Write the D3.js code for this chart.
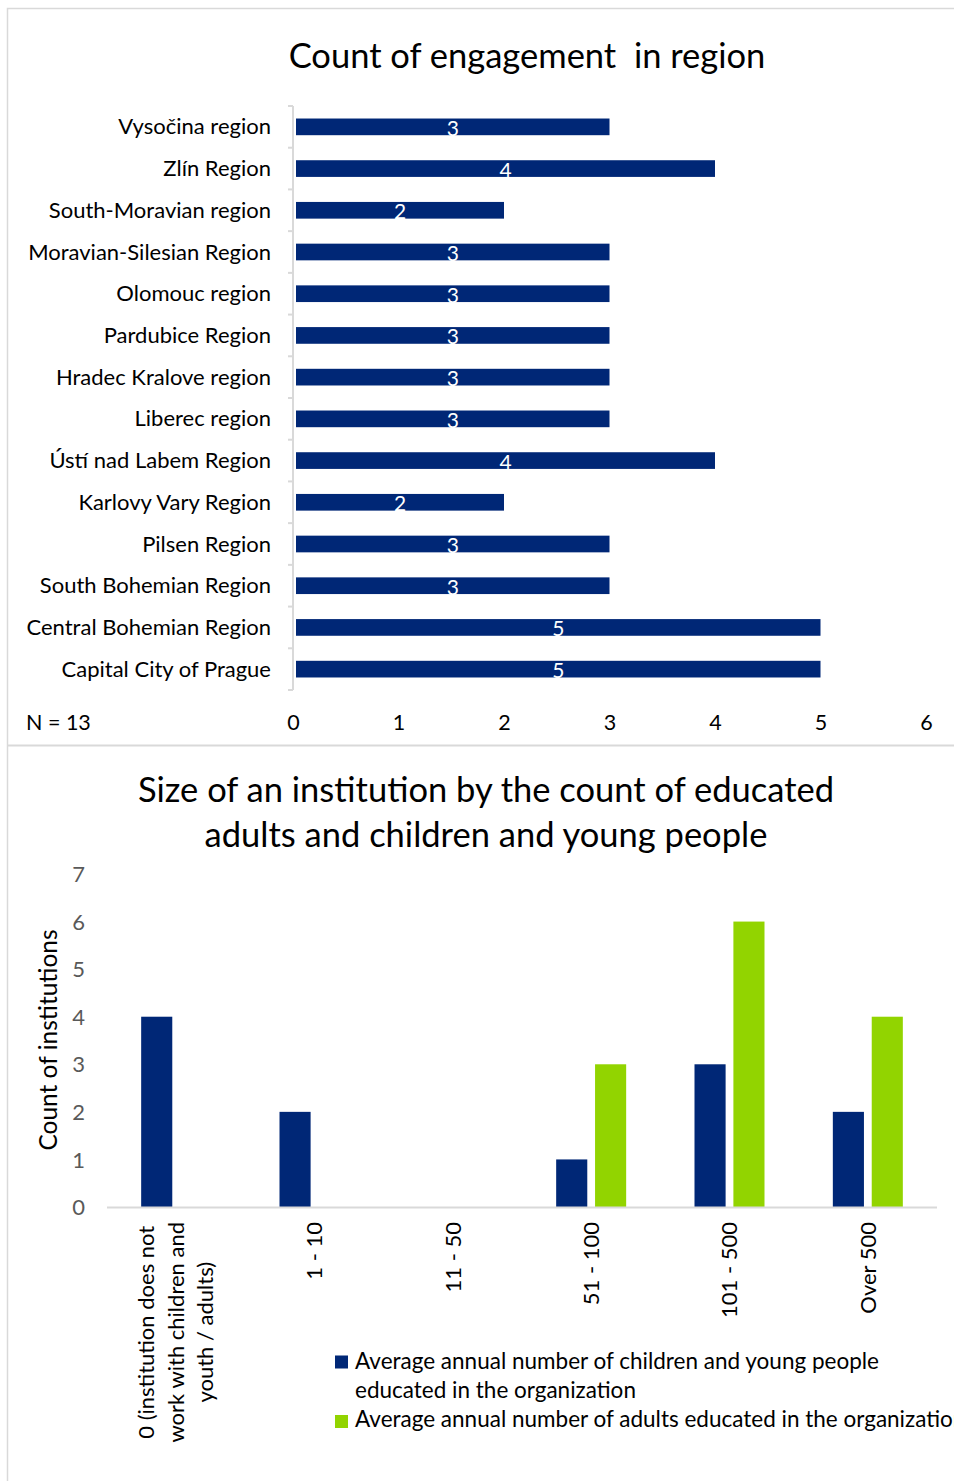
<!DOCTYPE html>
<html><head><meta charset="utf-8">
<script src="https://cdn.jsdelivr.net/npm/d3@7"></script>
<style>
html,body{margin:0;padding:0;background:#fff;}
svg{display:block;font-family:Lato,"Open Sans",sans-serif;}
text{white-space:pre;}
</style></head>
<body>
<svg id="c" width="954" height="1481"></svg>
<script>
// ---------- data ----------
const regions = ["Vysočina region","Zlín Region","South-Moravian region","Moravian-Silesian Region","Olomouc region","Pardubice Region","Hradec Kralove region","Liberec region","Ústí nad Labem Region","Karlovy Vary Region","Pilsen Region","South Bohemian Region","Central Bohemian Region","Capital City of Prague"];
const regionCounts = [3,4,2,3,3,3,3,3,4,2,3,3,5,5];
const regionTicks = [0,1,2,3,4,5,6];
const regionTitle = "Count of engagement  in region";
const regionNote = "N = 13";

const sizeCats = ["0 (institution does not work with children and youth / adults)","1 - 10","11 - 50","51 - 100","101 - 500","Over 500"];
const sizeCatLines = [["0 (institution does not","work with children and","youth / adults)"],["1 - 10"],["11 - 50"],["51 - 100"],["101 - 500"],["Over 500"]];
const seriesNames = ["Average annual number of children and young people educated in the organization","Average annual number of adults educated in the organization"];
const legendLines1 = ["Average annual number of children and young people","educated in the organization"];
const childrenCounts = [4,2,0,1,3,2];
const adultCounts = [0,0,0,3,6,4];
const sizeTicks = [0,1,2,3,4,5,6,7];
const sizeTitle = ["Size of an institution by the count of educated","adults and children and young people"];
const sizeYTitle = "Count of institutions";

const BLUE = "#002776", GREEN = "#92D400", FRAME = "#d9d9d9";
const svg = d3.select("#c");

// ---------- frames ----------
svg.append("path").attr("d","M7.5,1481 V8.5 H954").attr("fill","none").attr("stroke",FRAME).attr("stroke-width",1.5);
svg.append("line").attr("x1",7).attr("x2",954).attr("y1",745.5).attr("y2",745.5).attr("stroke",FRAME).attr("stroke-width",2);

// ---------- chart 1 ----------
const g1 = svg.append("g");
g1.append("text").attr("x",527).attr("y",68).attr("text-anchor","middle").attr("font-size",34.5).attr("fill","#000").text(regionTitle);

const x1 = d3.scaleLinear().domain([0,6]).range([293,926]);
const y1 = d3.scaleBand().domain(regions).range([106,690]).paddingInner(0.6).paddingOuter(0.3);

const yAxisG = g1.append("g");
yAxisG.append("line").attr("x1",293).attr("x2",293).attr("y1",106).attr("y2",690).attr("stroke",FRAME).attr("stroke-width",2);
yAxisG.selectAll("line.t").data(d3.range(regions.length+1)).join("line").attr("class","t")
  .attr("x1",288).attr("x2",293)
  .attr("y1",i=>106+i*y1.step()).attr("y2",i=>106+i*y1.step())
  .attr("stroke",FRAME).attr("stroke-width",2);

yAxisG.selectAll("text.cat").data(regions).join("text").attr("class","cat")
  .attr("x",271).attr("y",d=>y1(d)+y1.bandwidth()/2+7.5).attr("text-anchor","end")
  .attr("font-size",22).attr("fill","#000").text(d=>d);

g1.selectAll("rect.bar").data(regions).join("rect").attr("class","bar")
  .attr("x",x1(0)+3).attr("y",d=>y1(d))
  .attr("width",(d,i)=>x1(regionCounts[i])-x1(0)-3).attr("height",y1.bandwidth())
  .attr("fill",BLUE);

g1.selectAll("text.lbl").data(regions).join("text").attr("class","lbl")
  .attr("x",(d,i)=>(x1(0)+3+x1(regionCounts[i]))/2).attr("y",d=>y1(d)+y1.bandwidth()/2+9)
  .attr("text-anchor","middle").attr("font-size",21).attr("fill","#fff")
  .text((d,i)=>regionCounts[i]);

const xAx1 = d3.axisBottom(x1).tickValues(regionTicks).tickSize(0).tickFormat(d3.format("d"));
const xg1 = g1.append("g").attr("transform","translate(0,707)").call(xAx1);
xg1.select(".domain").remove();
xg1.selectAll("text").attr("font-size",21.5).attr("fill","#000").attr("font-family","Lato").attr("dy",0).attr("y",22.5);

g1.append("text").attr("x",26).attr("y",729.5).attr("font-size",21.5).attr("fill","#000").text(regionNote);

// ---------- chart 2 ----------
const g2 = svg.append("g");
g2.selectAll("text.title").data(sizeTitle).join("text").attr("class","title")
  .attr("x",486).attr("y",(d,i)=>802+i*45).attr("text-anchor","middle").attr("font-size",34.5).attr("fill","#000").text(d=>d);

const x0 = d3.scaleBand().domain(sizeCats).range([107,937]).paddingInner(0.494).paddingOuter(0.247);
const xs = d3.scaleBand().domain([0,1]).range([0,x0.bandwidth()]).paddingInner(0.2);
const y2 = d3.scaleLinear().domain([0,7]).range([1207,874]);

const yAx2 = d3.axisLeft(y2).tickValues(sizeTicks).tickSize(0).tickFormat(d3.format("d"));
const yg2 = g2.append("g").attr("transform","translate(85,0)").call(yAx2);
yg2.select(".domain").remove();
yg2.selectAll("text").attr("font-size",22).attr("fill","#595959").attr("font-family","Lato").attr("x",0).attr("dy","0.35em");

g2.append("text").attr("transform","translate(57,1040) rotate(-90)").attr("text-anchor","middle")
  .attr("font-size",24.5).attr("fill","#000").text(sizeYTitle);

const series = [childrenCounts, adultCounts];
const colors = [BLUE, GREEN];
series.forEach((vals,s)=>{
  g2.selectAll("rect.s"+s).data(sizeCats).join("rect").attr("class","s"+s)
    .attr("x",d=>x0(d)+xs(s)).attr("width",xs.bandwidth())
    .attr("y",(d,i)=>y2(vals[i])).attr("height",(d,i)=>y2(0)-y2(vals[i]))
    .attr("fill",colors[s]);
});

g2.append("line").attr("x1",107).attr("x2",937).attr("y1",y2(0)+0.5).attr("y2",y2(0)+0.5).attr("stroke",FRAME).attr("stroke-width",2);

const catG = g2.selectAll("g.cat").data(sizeCats).join("g").attr("class","cat")
  .attr("transform",d=>`translate(${x0(d)+x0.bandwidth()/2},1222) rotate(-90)`);
catG.each(function(d,i){
  const g = d3.select(this);
  const lines = sizeCatLines[i];
  const t = g.append("text").attr("text-anchor","middle").attr("font-size",22).attr("fill","#000");
  lines.forEach((ln,j)=>{
    t.append("tspan").attr("x",0).attr("y",(j-(lines.length-1)/2)*29.5).attr("dy","0.35em").text(ln);
  });
  let w = 0;
  t.selectAll("tspan").each(function(){ w = Math.max(w, this.getComputedTextLength()); });
  t.attr("transform",`translate(${-w/2},0)`);
});

// legend
const leg = g2.append("g");
leg.append("rect").attr("x",335).attr("y",1355.5).attr("width",13).attr("height",13).attr("fill",BLUE);
leg.append("text").attr("x",355).attr("y",1369).attr("font-size",22.5).attr("fill","#000")
  .selectAll("tspan").data(legendLines1).join("tspan")
  .attr("x",355).attr("dy",(d,i)=>i?29:0).text(d=>d);
leg.append("rect").attr("x",335).attr("y",1415).attr("width",13).attr("height",13).attr("fill",GREEN);
leg.append("text").attr("x",355).attr("y",1427).attr("font-size",22.5).attr("fill","#000").text(seriesNames[1]);
</script>
</body></html>
